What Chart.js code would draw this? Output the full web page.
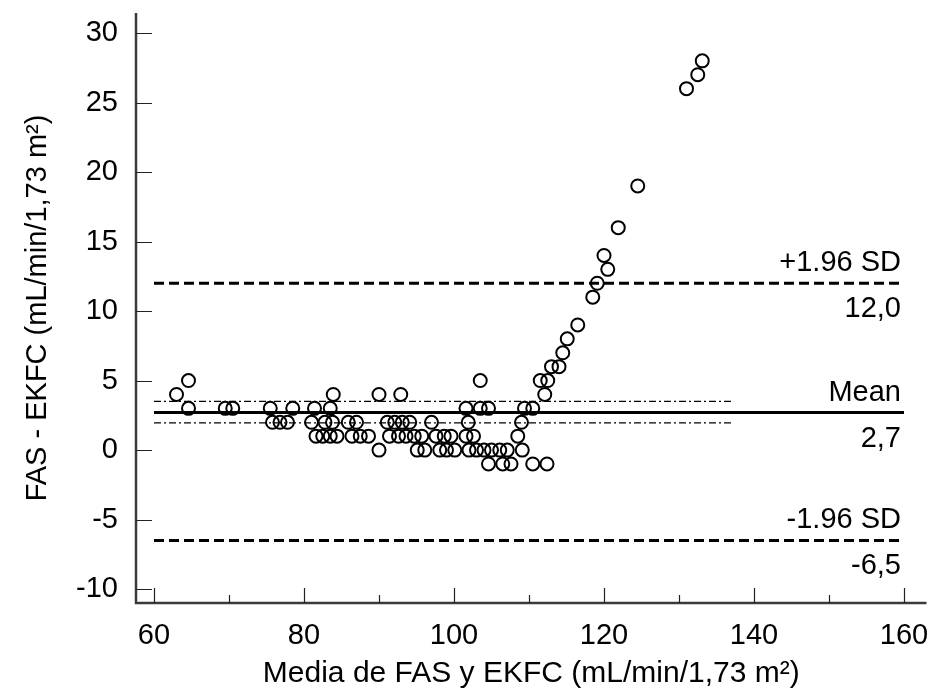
<!DOCTYPE html>
<html>
<head>
<meta charset="utf-8">
<script src="https://cdn.jsdelivr.net/npm/chart.js@4/dist/chart.umd.min.js"></script>
<style>
html,body{margin:0;padding:0;background:#fff;overflow:hidden;}
#wrap{width:935px;height:692px;}
</style>
</head>
<body>
<div id="wrap"><canvas id="c" width="935" height="692"></canvas></div>
<script>
// ---- data ----
const avgValues = [63.0,64.6,64.6,69.5,70.5,
  75.5,75.8,76.8,77.8,78.5,
  81.0,81.4,81.6,82.5,82.8,83.5,83.5,83.8,83.9,84.4,
  85.9,86.4,87.0,87.5,88.6,
  90.0,90.0,91.1,91.4,92.1,92.6,92.9,93.1,93.6,94.1,94.7,95.1,95.7,96.1,
  97.0,97.6,98.1,98.7,99.0,99.6,100.1,
  101.6,101.9,101.6,102.0,102.6,103.0,103.5,103.5,104.0,104.6,104.6,105.0,106.1,106.5,107.1,107.6,
  108.5,109.0,109.1,109.4,110.5,110.5,111.5,112.1,112.5,112.4,
  113.0,114.0,114.5,115.1,116.5,118.5,119.1,120.0,120.5,121.9,124.5,131.0,132.5,133.1];
const diffValues = [4,5,3,3,3,
  3,2,2,2,3,
  2,3,1,1,2,3,1,2,4,1,
  2,1,2,1,1,
  4,0,2,1,2,1,4,2,1,2,1,0,1,0,
  2,1,0,1,0,1,0,
  3,2,1,0,1,0,5,3,0,3,-1,0,0,-1,0,-1,
  1,2,0,3,3,-1,5,4,5,-1,
  6,6,7,8,9,11,12,14,13,16,19,26,27,28];
const limitNames = ['+1.96 SD','Mean','-1.96 SD'];
const limitValues = [12.0, 2.7, -6.5];
const limitLabels = ['12,0','2,7','-6,5'];
const ciValues = [3.5, 1.95];
const lineXRange = [60, 160];
const ciXRange = [60, 137.3];
const xTickValues = [60,80,100,120,140,160];
const xMinorTickValues = [70,90,110,130,150];
const yTickValues = [-10,-5,0,5,10,15,20,25,30];
const xTitle = 'Media de FAS y EKFC (mL/min/1,73 m²)';
const yTitle = 'FAS - EKFC (mL/min/1,73 m²)';

const FONT = 'Liberation Sans, Arial, sans-serif';

const points = avgValues.map((x,i)=>({x:x, y:diffValues[i]}));

const limitDatasets = limitValues.map((v,i)=>({
  type:'line', label: limitNames[i],
  data: lineXRange.map(x=>({x:x,y:v})),
  borderColor:'#000', borderWidth: 3,
  borderDash: i===1 ? [] : [10,5],
  pointRadius:0, fill:false, order:2
}));
const ciDatasets = ciValues.map((v,i)=>({
  type:'line', label:'CI'+i,
  data: ciXRange.map(x=>({x:x,y:v})),
  borderColor:'#000', borderWidth: 1.2,
  borderDash:[7,3,2,3],
  pointRadius:0, fill:false, order:3
}));

const axisPlugin = {
  id:'axisPlugin',
  afterDraw(chart){
    const ctx = chart.ctx, ca = chart.chartArea;
    const xs = chart.scales.x, ys = chart.scales.y;
    ctx.save();
    ctx.strokeStyle = '#3a3a3a';
    ctx.lineWidth = 2.5;
    ctx.beginPath();
    ctx.moveTo(ca.left, ca.top); ctx.lineTo(ca.left, ca.bottom);
    ctx.lineTo(ca.right, ca.bottom);
    ctx.stroke();
    ctx.lineWidth = 1.2;
    ctx.strokeStyle = '#222';
    ctx.beginPath();
    yTickValues.forEach(v=>{
      const y = Math.round(ys.getPixelForValue(v))+0.5;
      ctx.moveTo(ca.left, y); ctx.lineTo(ca.left+16, y);
    });
    xTickValues.forEach(v=>{
      const x = Math.round(xs.getPixelForValue(v))+0.5;
      ctx.moveTo(x, ca.bottom); ctx.lineTo(x, ca.bottom-15);
    });
    xMinorTickValues.forEach(v=>{
      const x = Math.round(xs.getPixelForValue(v))+0.5;
      ctx.moveTo(x, ca.bottom); ctx.lineTo(x, ca.bottom-8);
    });
    ctx.stroke();
    // limit labels
    ctx.fillStyle = '#000';
    ctx.font = '29px ' + FONT;
    ctx.textAlign = 'right';
    ctx.textBaseline = 'middle';
    const xr = xs.getPixelForValue(lineXRange[1]) - 3;
    limitValues.forEach((v,i)=>{
      const y = ys.getPixelForValue(v);
      ctx.fillText(limitNames[i], xr, y - 20);
      ctx.fillText(limitLabels[i], xr, y + 26);
    });
    ctx.restore();
  }
};

new Chart(document.getElementById('c'), {
  type:'scatter',
  data:{
    datasets:[
      {type:'scatter', label:'data', data: points,
       pointStyle:'circle', pointRadius:6.5, pointHoverRadius:6.5,
       borderColor:'#000', backgroundColor:'rgba(0,0,0,0)', borderWidth:2, order:1},
      ...limitDatasets, ...ciDatasets
    ]
  },
  options:{
    responsive:false, animation:false,
    layout:{padding:{top:13,right:5,left:0,bottom:0}},
    plugins:{legend:{display:false}, tooltip:{enabled:false}},
    scales:{
      x:{
        type:'linear', min:57.6, max:163,
        grid:{display:false, drawTicks:false},
        border:{display:false},
        afterBuildTicks(s){ s.ticks = xTickValues.map(v=>({value:v})); },
        afterFit(s){ s.height = 89; s.paddingLeft = 0; s.paddingRight = 0; },
        ticks:{color:'#000', font:{family:FONT, size:29}, padding:16, autoSkip:false, maxRotation:0},
        title:{display:true, text:xTitle, color:'#000', font:{family:FONT, size:30}, padding:{top:0,bottom:0}}
      },
      y:{
        type:'linear', min:-11, max:31.44,
        grid:{display:false, drawTicks:false},
        border:{display:false},
        afterBuildTicks(s){ s.ticks = yTickValues.map(v=>({value:v})); },
        afterFit(s){ s.width = 136; s.paddingTop = 0; s.paddingBottom = 0; },
        ticks:{color:'#000', font:{family:FONT, size:29}, padding:18, autoSkip:false},
        title:{display:true, text:yTitle, color:'#000', font:{family:FONT, size:29}, padding:{top:21,bottom:0}}
      }
    }
  },
  plugins:[axisPlugin]
});
</script>
</body>
</html>
